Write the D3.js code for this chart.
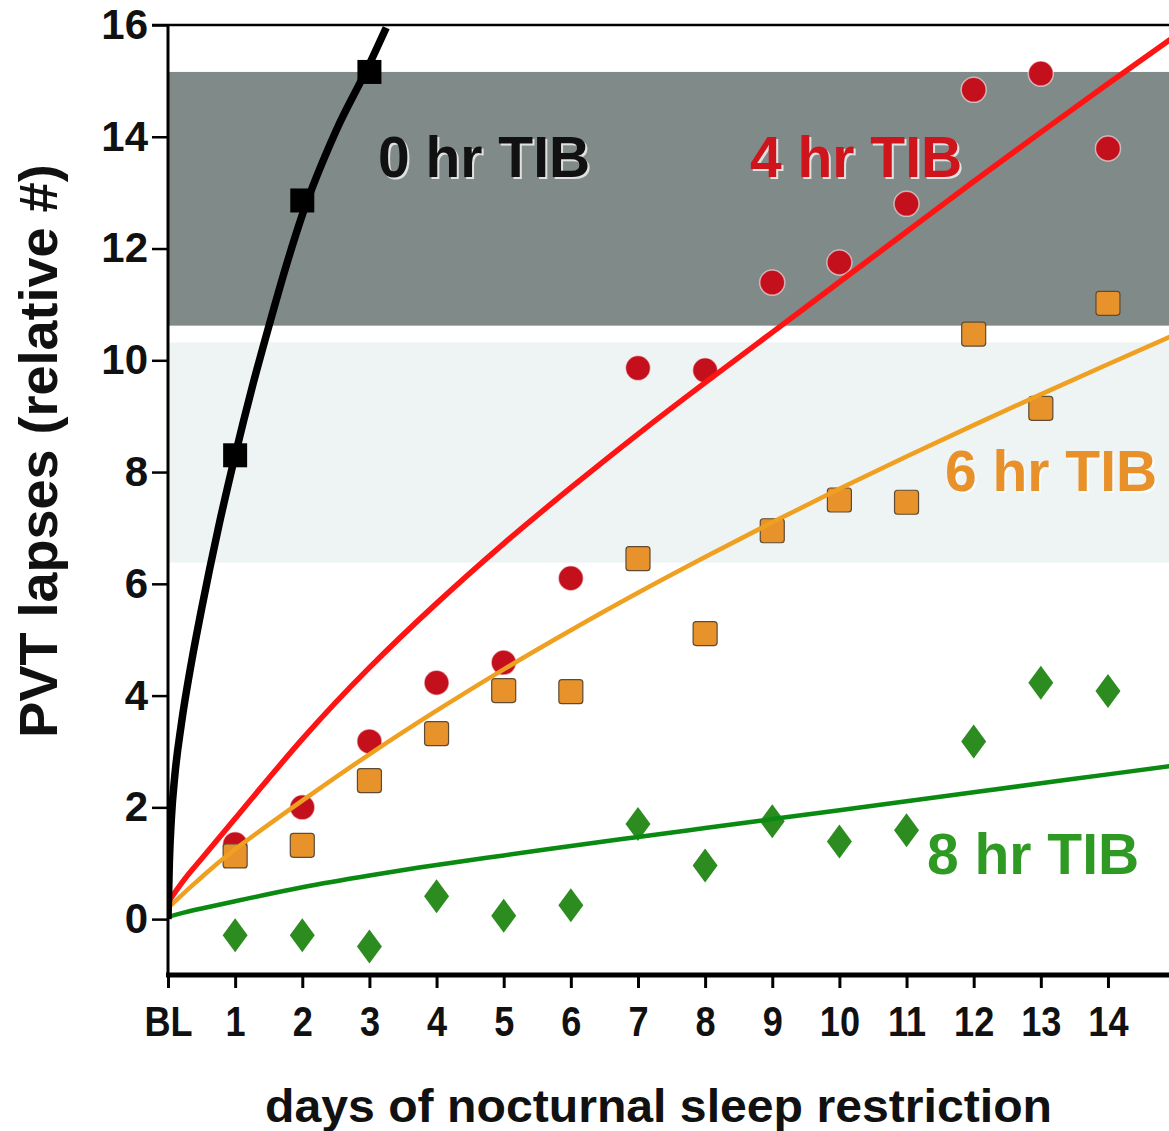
<!DOCTYPE html>
<html>
<head>
<meta charset="utf-8">
<script src="https://cdn.jsdelivr.net/npm/d3@7"></script>
<style>
  body { margin: 0; background: #fff; }
  svg { display: block; font-family: "Liberation Sans", Arial, sans-serif; }
</style>
</head>
<body>
<div id="chart"></div>
<script>
// measured points, one per day of restriction
const days = [1, 2, 3, 4, 5, 6, 7, 8, 9, 10, 11, 12, 13, 14];
const tib0 = [8.3, 12.86, 15.16];
const tib4 = [1.34, 2.0, 3.18, 4.23, 4.59, 6.1, 9.86, 9.82, 11.39, 11.75, 12.8, 14.84, 15.13, 13.79];
const tib6 = [1.13, 1.32, 2.48, 3.32, 4.09, 4.07, 6.45, 5.11, 6.95, 7.5, 7.46, 10.47, 9.14, 11.02];
const tib8 = [-0.29, -0.29, -0.49, 0.41, 0.06, 0.25, 1.7, 0.96, 1.75, 1.39, 1.59, 3.18, 4.23, 4.08];

// fitted curves
const fit0X = [0, 0.02, 0.05, 0.1, 0.2, 0.35, 0.5, 0.75, 1, 1.25, 1.5, 1.75, 2, 2.5, 3, 3.25];
const fit0Y = [0, 1.0, 1.8, 2.55, 3.5, 4.6, 5.55, 7.0, 8.3, 9.5, 10.6, 11.65, 12.6, 14.1, 15.3, 15.95];
const fitX = [0, 0.25, 0.5, 1, 2, 3, 4, 5, 6, 7, 8, 9, 10, 11, 12, 13, 14, 15];
const fit4Y = [0.3, 0.72, 1.08, 1.8, 3.22, 4.5, 5.65, 6.72, 7.72, 8.68, 9.6, 10.5, 11.4, 12.3, 13.2, 14.08, 14.95, 15.8];
const fit6Y = [0.2, 0.48, 0.75, 1.25, 2.12, 2.95, 3.73, 4.47, 5.17, 5.84, 6.48, 7.1, 7.7, 8.28, 8.84, 9.39, 9.93, 10.46];
const fit8Y = [0.04, 0.12, 0.19, 0.32, 0.57, 0.78, 0.97, 1.14, 1.31, 1.47, 1.63, 1.79, 1.95, 2.11, 2.27, 2.43, 2.59, 2.75];

// shaded ranges of lapses
const bands = [
  { lo: 10.62, hi: 15.16, fill: "#808b89" },
  { lo: 6.38, hi: 10.32, fill: "#eef3f3" }
];

const xTicks = [0, 1, 2, 3, 4, 5, 6, 7, 8, 9, 10, 11, 12, 13, 14];
const xTickLabels = ["BL", "1", "2", "3", "4", "5", "6", "7", "8", "9", "10", "11", "12", "13", "14"];
const yTicks = [0, 2, 4, 6, 8, 10, 12, 14, 16];

const width = 1169, height = 1131;
const plotLeft = 168, plotTop = 25, plotBottom = 975;

const x = d3.scaleLinear().domain([0, 15]).range([plotLeft, plotLeft + 15 * 67.14]);
const y = d3.scaleLinear().domain([-1, 16]).range([plotBottom, plotTop]);

const svg = d3.select("#chart").append("svg")
  .attr("width", width)
  .attr("height", height);

svg.append("clipPath").attr("id", "plot")
  .append("rect")
  .attr("x", plotLeft).attr("y", plotTop)
  .attr("width", width - plotLeft).attr("height", plotBottom - plotTop);

const plot = svg.append("g").attr("clip-path", "url(#plot)");

plot.selectAll("rect.band")
  .data(bands)
  .enter()
  .append("rect")
  .attr("class", "band")
  .attr("x", plotLeft)
  .attr("width", width - plotLeft)
  .attr("y", d => y(d.hi))
  .attr("height", d => y(d.lo) - y(d.hi))
  .attr("fill", d => d.fill);

// markers
plot.selectAll("circle.t4")
  .data(tib4)
  .enter()
  .append("circle")
  .attr("class", "t4")
  .attr("cx", (d, i) => x(days[i]))
  .attr("cy", d => y(d))
  .attr("r", 12.5)
  .attr("fill", "#c4101c")
  .attr("stroke", "rgba(255,255,255,0.55)")
  .attr("stroke-width", 1.5);

plot.selectAll("rect.t6")
  .data(tib6)
  .enter()
  .append("rect")
  .attr("class", "t6")
  .attr("x", (d, i) => x(days[i]) - 12)
  .attr("y", d => y(d) - 12)
  .attr("width", 24)
  .attr("height", 24)
  .attr("rx", 3)
  .attr("fill", "#e8922c")
  .attr("stroke", "#5e4b33")
  .attr("stroke-width", 1.2);

const diamond = "M0,-17 L12.5,0 L0,17 L-12.5,0 Z";
plot.selectAll("path.t8")
  .data(tib8)
  .enter()
  .append("path")
  .attr("class", "t8")
  .attr("d", diamond)
  .attr("transform", (d, i) => `translate(${x(days[i])},${y(d)})`)
  .attr("fill", "#2d8c1f");

plot.selectAll("rect.t0")
  .data(tib0)
  .enter()
  .append("rect")
  .attr("class", "t0")
  .attr("x", (d, i) => x(days[i]) - 12)
  .attr("y", d => y(d) - 12)
  .attr("width", 24)
  .attr("height", 24)
  .attr("fill", "#000");

// fitted lines
const smooth = d3.line()
  .x(d => x(d[0]))
  .y(d => y(d[1]))
  .curve(d3.curveNatural);

const steep = d3.line()
  .x(d => x(d[0]))
  .y(d => y(d[1]))
  .curve(d3.curveMonotoneX);

const curves = [
  { xs: fitX, ys: fit8Y, color: "#0b8a12", w: 4.5, gen: smooth },
  { xs: fitX, ys: fit6Y, color: "#f0a020", w: 4.5, gen: smooth },
  { xs: fitX, ys: fit4Y, color: "#ff1414", w: 5.5, gen: smooth },
  { xs: fit0X, ys: fit0Y, color: "#000", w: 7.5, gen: steep }
];

plot.selectAll("path.fit")
  .data(curves)
  .enter()
  .append("path")
  .attr("class", "fit")
  .attr("d", c => c.gen(c.xs.map((v, i) => [v, c.ys[i]])))
  .attr("fill", "none")
  .attr("stroke", c => c.color)
  .attr("stroke-width", c => c.w)
  .attr("stroke-linejoin", "round");

// condition labels
const labels = [
  { text: "0 hr TIB", px: 378, py: 177, color: "#111" },
  { text: "4 hr TIB", px: 750, py: 177, color: "#d0141c" },
  { text: "6 hr TIB", px: 945, py: 491, color: "#e8902a" },
  { text: "8 hr TIB", px: 927, py: 874, color: "#2f9a23" }
];

labels.forEach(l => {
  svg.append("text")
    .attr("x", l.px + 2).attr("y", l.py + 2)
    .attr("font-size", 57).attr("font-weight", "bold")
    .attr("fill", "rgba(255,255,255,0.75)")
    .text(l.text);
  svg.append("text")
    .attr("x", l.px).attr("y", l.py)
    .attr("font-size", 57).attr("font-weight", "bold")
    .attr("fill", l.color)
    .text(l.text);
});

// axes
const yAxis = svg.append("g")
  .attr("transform", `translate(${plotLeft},0)`)
  .call(d3.axisLeft(y).tickValues(yTicks).tickSize(16).tickPadding(4));
yAxis.select(".domain").remove();
yAxis.selectAll(".tick line").attr("stroke-width", 2.5);
yAxis.selectAll(".tick text")
  .attr("font-size", 42).attr("font-weight", "bold")
  .attr("font-family", "Liberation Sans, Arial, sans-serif")
  .attr("fill", "#111");

svg.append("line")
  .attr("x1", plotLeft).attr("x2", plotLeft)
  .attr("y1", plotTop).attr("y2", plotBottom)
  .attr("stroke", "#000").attr("stroke-width", 3);

svg.append("line")
  .attr("x1", plotLeft - 16).attr("x2", width)
  .attr("y1", plotTop).attr("y2", plotTop)
  .attr("stroke", "#000").attr("stroke-width", 2.5);

const xAxis = svg.append("g")
  .attr("transform", `translate(0,${plotBottom})`)
  .call(d3.axisBottom(x).tickValues(xTicks).tickSize(13)
    .tickFormat((d, i) => xTickLabels[i]));
xAxis.select(".domain").remove();
xAxis.selectAll(".tick line").attr("stroke-width", 3);
xAxis.selectAll(".tick text")
  .attr("font-size", 42).attr("font-weight", "bold")
  .attr("font-family", "Liberation Sans, Arial, sans-serif")
  .attr("fill", "#111")
  .attr("dy", null)
  .attr("y", 61)
  .attr("transform", "scale(0.86,1)");

svg.append("line")
  .attr("x1", plotLeft - 2).attr("x2", width)
  .attr("y1", plotBottom).attr("y2", plotBottom)
  .attr("stroke", "#000").attr("stroke-width", 5);

svg.append("text")
  .attr("transform", `translate(57,451) rotate(-90)`)
  .attr("text-anchor", "middle")
  .attr("font-size", 54).attr("font-weight", "bold")
  .attr("fill", "#111")
  .text("PVT lapses (relative #)");

svg.append("text")
  .attr("x", 265).attr("y", 1122)
  .attr("font-size", 47).attr("font-weight", "bold")
  .attr("fill", "#111")
  .attr("textLength", 787)
  .attr("lengthAdjust", "spacingAndGlyphs")
  .text("days of nocturnal sleep restriction");
</script>
</body>
</html>
